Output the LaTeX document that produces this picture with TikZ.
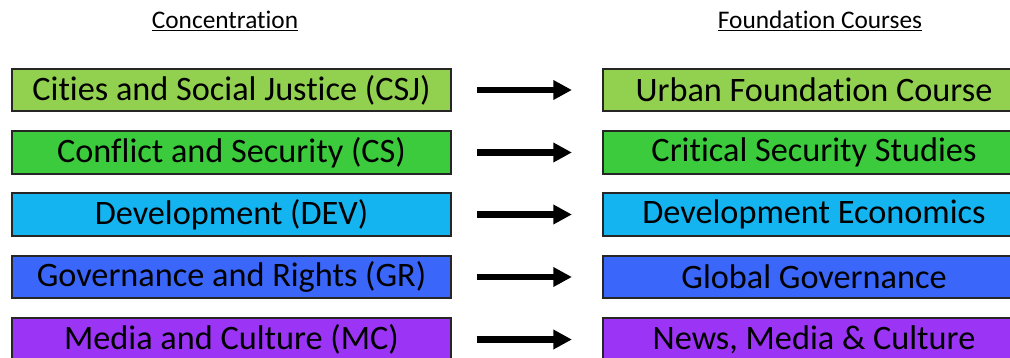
\documentclass[tikz,border=0pt]{standalone}
\usepackage{fontspec}
\setmainfont{Carlito}[Ligatures=NoCommon]
\usetikzlibrary{arrows.meta}
\definecolor{csjgreen}{HTML}{92D050}
\definecolor{csgreen}{HTML}{3CCB3C}
\definecolor{devcyan}{HTML}{14B4F0}
\definecolor{grblue}{HTML}{3A66FA}
\definecolor{mcpurple}{HTML}{9B34F5}
\tikzset{
x=0.75pt, y=-0.75pt, % one unit is one pixel of the reference
box/.style={draw=black!85, line width=1.6pt, minimum width=329pt, minimum height=32pt, inner sep=0pt, font=\fontsize{25.7}{30}\selectfont}, % the coloured boxes
course/.style={box, minimum width=316.5pt}, % boxes on the right are a bit narrower
heading/.style={font=\fontsize{19}{22}\selectfont}, % the two titles
link/.style={line width=4.6pt, -{Triangle[length=14pt,width=14pt]}, shorten <=18.75pt, shorten >=22.5pt}, % arrows between boxes
}

\begin{document}
\begin{tikzpicture}
\useasboundingbox (0,0) rectangle (1010,357);
\clip (0,0) rectangle (1010,357);

\node[heading] at (225,21) (conc) {\underline{Concentration}};
\node[heading] at (820,21) (found) {\underline{Foundation Courses}};

\node[box, fill=csjgreen] at (231.5,90) (csj) {Cities and Social Justice (CSJ)};
\node[box, fill=csgreen] at (231.5,152.5) (cs) {Conflict and Security (CS)};
\node[box, fill=devcyan] at (231.5,214.5) (dev) {Development (DEV)};
\node[box, fill=grblue] at (231.5,277) (gr) {Governance and Rights (GR)};
\node[box, fill=mcpurple] at (231.5,339.5) (mc) {Media and Culture (MC)};

\node[course, fill=csjgreen] at (814,90) (urban) {Urban Foundation Course};
\node[course, fill=csgreen] at (814,152.5) (security) {Critical Security Studies};
\node[course, fill=devcyan] at (814,214.5) (economics) {Development Economics};
\node[course, fill=grblue] at (814,277) (governance) {Global Governance};
\node[course, fill=mcpurple] at (814,339.5) (media) {News, Media \& Culture};

\draw[link] (csj) -- (urban);
\draw[link] (cs) -- (security);
\draw[link] (dev) -- (economics);
\draw[link] (gr) -- (governance);
\draw[link] (mc) -- (media);

\end{tikzpicture}
\end{document}
